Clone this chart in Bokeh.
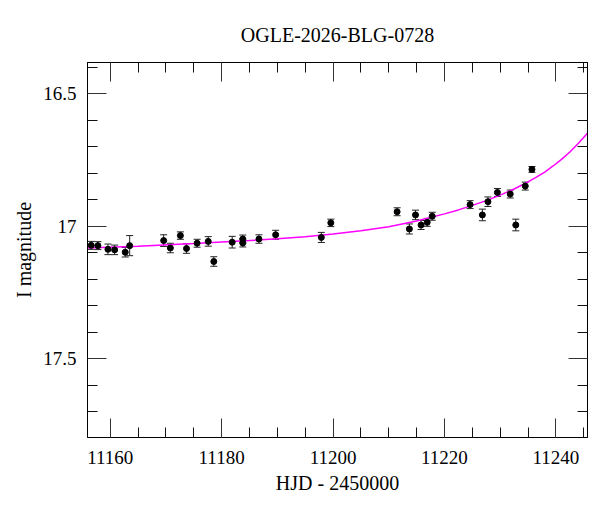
from bokeh.plotting import figure
from bokeh.models import (Range1d, FixedTicker, LinearAxis, Whisker, TeeHead,
                          ColumnDataSource, CustomJSTickFormatter)
from bokeh.embed import file_html
from bokeh.resources import INLINE

# ---- data ----
hjd = [11156.6, 11157.8, 11159.6, 11160.8, 11162.7, 11163.5, 11169.6, 11170.8,
       11172.6, 11173.7, 11175.6, 11177.6, 11178.6, 11181.9, 11183.8, 11183.8,
       11186.7, 11189.7, 11197.9, 11199.6, 11211.5, 11213.7, 11214.8, 11215.8,
       11216.9, 11217.8, 11224.6, 11226.8, 11227.8, 11229.5, 11231.8, 11232.8,
       11234.5, 11235.7]
mag = [17.072, 17.073, 17.087, 17.089, 17.098, 17.073, 17.054, 17.082,
       17.035, 17.084, 17.064, 17.057, 17.133, 17.060, 17.048, 17.063,
       17.048, 17.032, 17.042, 16.987, 16.945, 17.010, 16.957, 16.995,
       16.985, 16.962, 16.918, 16.957, 16.907, 16.872, 16.878, 16.995,
       16.848, 16.785]
err = [0.015, 0.015, 0.020, 0.018, 0.018, 0.038, 0.022, 0.018,
       0.014, 0.018, 0.015, 0.018, 0.018, 0.022, 0.015, 0.015,
       0.016, 0.017, 0.019, 0.014, 0.015, 0.019, 0.018, 0.017,
       0.015, 0.015, 0.015, 0.022, 0.018, 0.015, 0.015, 0.022,
       0.015, 0.011]

model_hjd = [11155, 11165, 11175, 11185, 11190, 11195, 11200, 11205, 11210,
             11215, 11220, 11222.5, 11225, 11227.5, 11230, 11232.5, 11235,
             11236.5, 11238, 11239.5, 11241, 11242.5, 11244, 11245.5, 11246.5]
model_mag = [17.083, 17.075, 17.065, 17.054, 17.047, 17.039, 17.029, 17.017,
             17.002, 16.980, 16.953, 16.938, 16.921, 16.903, 16.882, 16.859,
             16.832, 16.814, 16.795, 16.772, 16.747, 16.719, 16.687, 16.652,
             16.627]

x_major = [11160, 11180, 11200, 11220, 11240]
x_major_labels = ["11160", "11180", "11200", "11220", "11240"]
x_minor = [11165, 11170, 11175, 11185, 11190, 11195, 11205, 11210, 11215,
           11225, 11230, 11235, 11245]
y_major = [16.5, 17.0, 17.5]
y_major_labels = ["16.5", "17", "17.5"]
y_minor = [16.4, 16.6, 16.7, 16.8, 16.9, 17.1, 17.2, 17.3, 17.4, 17.6, 17.7]

title_text = "OGLE-2026-BLG-0728"
x_label = "HJD - 2450000"
y_label = "I magnitude"

FONT = "Liberation Serif"

src = ColumnDataSource(dict(
    x=hjd, y=mag,
    lo=[m - e for m, e in zip(mag, err)],
    hi=[m + e for m, e in zip(mag, err)],
))

p = figure(width=592, height=504, output_backend="svg", toolbar_location=None,
           x_range=Range1d(11155.93, 11245.67), y_range=Range1d(17.798, 16.381),
           min_border_left=87, min_border_right=5, min_border_top=62,
           min_border_bottom=67)

p.title.text = title_text
p.title.align = "center"
p.title.text_font = FONT
p.title.text_font_size = "20px"
p.title.text_font_style = "normal"
p.title.text_color = "black"
p.title.standoff = 34

p.xgrid.grid_line_color = None
p.ygrid.grid_line_color = None
p.outline_line_color = "black"
p.outline_line_width = 1
p.background_fill_color = "white"
p.border_fill_color = "white"


def style_axis(ax, ticks, minor, labels, show_labels):
    ax.ticker = FixedTicker(ticks=ticks, minor_ticks=minor)
    ax.axis_line_color = "black"
    ax.major_tick_in = 19
    ax.major_tick_out = 0
    ax.minor_tick_in = 10
    ax.minor_tick_out = 0
    ax.major_tick_line_color = "#333333"
    ax.minor_tick_line_color = "#111111"
    ax.major_label_text_font = FONT
    ax.major_label_text_font_size = "19px"
    ax.major_label_text_color = "black"
    ax.axis_label_text_font = FONT
    ax.axis_label_text_font_size = "20px"
    ax.axis_label_text_font_style = "normal"
    ax.axis_label_text_color = "black"
    if show_labels:
        ax.major_label_overrides = {t: l for t, l in zip(ticks, labels)}
    else:
        ax.formatter = CustomJSTickFormatter(code="return '';")
        ax.major_label_standoff = 0


xa = p.xaxis[0]
style_axis(xa, x_major, x_minor, x_major_labels, True)
xa.axis_label = x_label
xa.major_label_standoff = 13
xa.axis_label_standoff = 5

ya = p.yaxis[0]
style_axis(ya, y_major, y_minor, y_major_labels, True)
ya.axis_label = y_label
ya.major_label_standoff = 11
ya.axis_label_standoff = 5
ya.major_label_orientation = "horizontal"

top = LinearAxis()
style_axis(top, x_major, x_minor, x_major_labels, False)
p.add_layout(top, "above")
right = LinearAxis()
style_axis(right, y_major, y_minor, y_major_labels, False)
p.add_layout(right, "right")

p.line(model_hjd, model_mag, line_color="#ff00ff", line_width=1.5)

wh = Whisker(source=src, base="x", lower="lo", upper="hi", dimension="height",
             line_color="#222222", line_width=1,
             lower_head=TeeHead(size=7, line_color="#222222", line_width=1),
             upper_head=TeeHead(size=7, line_color="#222222", line_width=1))
p.add_layout(wh)
p.scatter("x", "y", source=src, size=6, fill_color="black", line_color="black")

open("out.html", "w").write(file_html(p, INLINE))
